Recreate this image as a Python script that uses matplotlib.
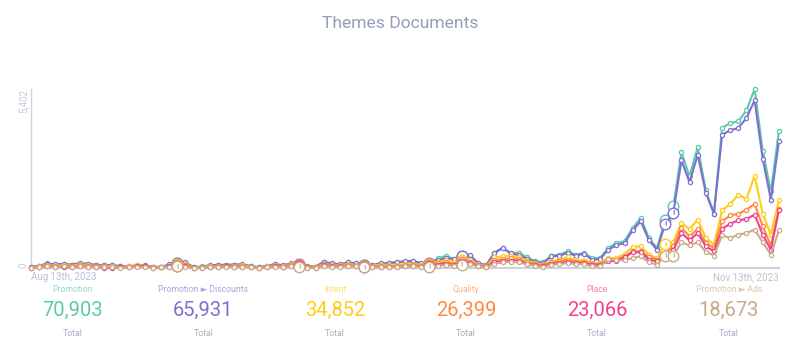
import matplotlib
matplotlib.use('Agg')
import matplotlib.pyplot as plt
import numpy as np

plt.rcParams['font.family'] = ['Roboto', 'DejaVu Sans']

# one value per day, Aug 13th to Nov 13th
promotion = [30,60,140,100,110,90,120,120,80,80,90,60,40,80,70,30,20,80,140,150,30,50,70,80,80,100,100,50,30,70,
             110,70,120,100,50,30,170,130,100,150,120,80,80,120,150,190,190,190,130,120,290,360,280,350,370,130,80,440,600,460,460,320,210,
             171,372,402,503,402,453,302,302,604,755,805,1207,1509,905,604,1459,1861,3490,2766,3652,2344,1640,4225,4376,4426,4758,5402,3531,2314,4145]
discounts = [20,70,130,110,120,100,150,130,90,90,80,50,50,70,80,40,30,110,150,170,20,30,90,90,100,100,110,60,20,60,
             120,80,140,110,60,40,190,140,110,170,140,90,90,140,140,170,200,220,140,140,240,290,270,370,390,140,90,460,610,440,390,270,190,
             151,352,372,453,372,433,252,272,553,684,755,1137,1408,835,553,1328,1660,3249,2585,3420,2264,1640,4024,4155,4225,4527,5060,3290,2062,3843]
intent = [10,50,90,70,90,70,110,90,60,70,50,30,50,90,60,30,30,50,110,120,10,20,60,60,70,70,80,40,10,50,
          80,50,110,90,40,30,120,90,80,120,90,70,70,100,90,100,120,120,90,110,190,230,170,230,240,100,60,320,350,370,330,220,150,
          100,201,252,332,231,231,151,151,302,302,423,634,654,402,302,724,785,1358,1177,1459,905,704,1740,1931,2213,2082,2787,1640,1006,2062]
quality = [10,40,70,60,70,60,80,70,50,50,40,20,40,70,60,20,30,40,90,90,10,20,40,50,60,60,60,30,10,40,
           70,40,100,80,30,20,110,70,70,100,70,60,50,70,60,60,80,90,70,90,140,170,120,170,180,80,50,230,270,290,260,170,120,
           80,171,201,252,191,191,120,120,252,252,352,503,503,332,252,420,660,1207,956,1177,755,604,1408,1590,1630,1761,1931,1258,674,1781]
place = [0,30,50,40,40,20,60,40,30,10,10,20,30,50,60,10,20,50,70,50,0,0,30,40,50,40,40,20,0,30,
         50,30,70,60,10,0,80,50,50,70,50,40,30,30,30,30,50,60,40,70,100,130,90,130,140,60,30,170,210,220,200,130,90,
         50,131,151,191,151,151,100,100,201,221,322,473,473,252,201,300,540,1056,835,1056,654,503,1177,1338,1439,1479,1610,1006,553,1761]
ads = [5,30,50,40,50,40,60,40,30,40,30,10,20,40,30,10,20,30,50,40,0,10,30,30,40,30,40,20,0,30,
       40,20,60,40,10,0,70,40,40,60,50,30,30,40,40,30,50,50,30,40,70,90,70,100,110,50,20,130,170,190,170,110,70,
       30,100,120,151,120,120,50,50,272,231,231,302,352,171,100,372,372,775,684,775,493,372,986,905,1006,1056,1157,775,402,1137]

series = [promotion, discounts, intent, quality, place, ads]
names = ['Promotion', 'Promotion ► Discounts', 'Intent', 'Quality', 'Place', 'Promotion ► Ads']
totals = ['70,903', '65,931', '34,852', '26,399', '23,066', '18,673']
colors = ['#5cc8ae', '#7f6fd0', '#ffcc1a', '#ff8a3d', '#f5408f', '#c9ab85']
y_ticks = [0, 5402]
y_labels = ['0', '5,402']
x_labels = ['Aug 13th, 2023', 'Nov 13th, 2023']

# days with a big "!" marker, per series, and where the "!" can actually be seen
early = [18, 33, 41, 49, 53]
note_days = [early + [78, 79], early + [78, 79], early + [78], early, early, early + [78, 79]]
mark_days = [[], [78, 79], [78], [], [], early + [78, 79]]

W, H = 800, 355
fig = plt.figure(figsize=(8, 3.55), dpi=100)
ax = fig.add_axes([31 / W, (H - 268) / H, 748 / W, 179 / H])

days = np.arange(len(promotion))
for i, (vals, c) in enumerate(zip(series, colors)):
    vals = np.array(vals)
    z = 3 + i
    ax.plot(days, vals, color=c, lw=1.5, marker='o', ms=3.0, mfc='white', mec=c, mew=0.9,
            clip_on=False, zorder=z)
    ax.plot(days[note_days[i]], vals[note_days[i]], ls='', marker='o', ms=7.6, mfc='white', mec=c, mew=1.0,
            clip_on=False, zorder=z)
    for d in mark_days[i]:
        ax.text(d, vals[d], '!', color=c, fontsize=6, ha='center', va='center', zorder=z, fontweight='bold')

ax.set_xlim(0, 92)
ax.set_ylim(0, 5402)
for s in ['top', 'right']:
    ax.spines[s].set_visible(False)
ax.spines['left'].set_color('#cdd2e4')
ax.spines['left'].set_linewidth(1.0)
ax.spines['bottom'].set_color('#ced0da')
ax.spines['bottom'].set_linewidth(1.5)

ax.set_yticks(y_ticks)
ax.set_yticklabels(y_labels, rotation=90, fontsize=7, color='#c5cadc')
ax.get_yticklabels()[0].set_va('bottom')
ax.get_yticklabels()[1].set_va('top')
ax.set_xticks([0, 92])
ax.set_xticklabels(x_labels, fontsize=7.0, color='#bcc0d2')
ax.get_xticklabels()[0].set_ha('left')
ax.get_xticklabels()[1].set_ha('right')
ax.tick_params(axis='x', length=0, pad=3)
ax.tick_params(axis='y', length=0, pad=1.5)

fig.text(400 / W, 1 - 24 / H, 'Themes Documents', color='#959eb9', fontsize=12.6,
         ha='center', va='center')

# summary row under the chart
centers = [73, 203.5, 335, 466, 597, 729]
for cx, name, total, c in zip(centers, names, totals, colors):
    fig.text(cx / W, 1 - 289 / H, name, color=c, alpha=0.65, fontsize=6.2, ha='center', va='center')
    fig.text(cx / W, 1 - 310 / H, total, color=c, fontsize=14.5, ha='center', va='center')
    fig.text(cx / W, 1 - 333 / H, 'Total', color='#a9adc0', fontsize=6.3, ha='center', va='center')

fig.savefig('out.png', dpi=100)
